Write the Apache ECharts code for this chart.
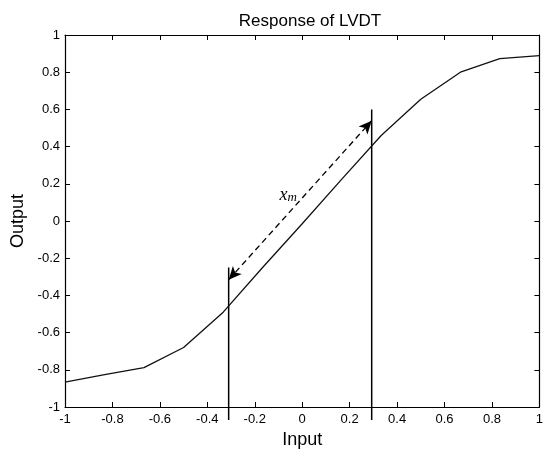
<!DOCTYPE html>
<html>
<head>
<meta charset="utf-8">
<script src="https://cdn.jsdelivr.net/npm/echarts@6/dist/echarts.min.js"></script>
<style>
html,body{margin:0;padding:0;background:#fff;}
#chart{width:546px;height:454px;}
</style>
</head>
<body>
<div id="chart"></div>
<script>
// Data
const inputX  = [-1, -0.833, -0.667, -0.5, -0.333, -0.167, 0, 0.167, 0.333, 0.5, 0.667, 0.833, 1];
const outputY = [-0.866, -0.826, -0.788, -0.68, -0.49, -0.25, -0.015, 0.225, 0.46, 0.655, 0.80, 0.873, 0.889];
const markerX = [-0.31, 0.293];
const markerTop = [-0.25, 0.60];
const markerBottom = -1.07;
const arrowStart = [-0.31, -0.316];
const arrowEnd = [0.293, 0.539];
const labelPos = [-0.059, 0.14];
const titleText = 'Response of LVDT';
const xName = 'Input';
const yName = 'Output';

const font = 'Liberation Sans, Arial, Helvetica, sans-serif';
const curve = inputX.map((x, i) => [x, outputY[i]]);
const markerSeries = markerX.map((x, i) => ({
  type: 'line',
  data: [[x, markerBottom], [x, markerTop[i]]],
  symbol: 'none',
  clip: false,
  silent: true,
  lineStyle: {color: '#000', width: 1.5},
  z: 3
}));

const chart = echarts.init(document.getElementById('chart'), null, {renderer: 'canvas'});
const axisCommon = {
  type: 'value', min: -1, max: 1, interval: 0.2,
  axisLine: {show: true, onZero: false, lineStyle: {color: '#000', width: 1.2}},
  axisTick: {show: true, inside: true, length: 5, lineStyle: {color: '#000', width: 1}},
  splitLine: {show: false}
};
chart.setOption({
  animation: false,
  backgroundColor: '#fff',
  title: {
    text: titleText, left: 305, top: 8, textAlign: 'center',
    textStyle: {fontFamily: font, fontSize: 17, fontWeight: 'normal', color: '#000'}
  },
  grid: {left: 65, right: 3, top: 35, bottom: 42, containLabel: false},
  xAxis: [
    Object.assign({}, axisCommon, {
      position: 'bottom', name: xName, nameLocation: 'middle', nameGap: 24,
      nameTextStyle: {fontFamily: font, fontSize: 18, color: '#000'},
      axisLabel: {fontFamily: font, fontSize: 13, color: '#000', margin: 6}
    }),
    Object.assign({}, axisCommon, {position: 'top', axisLabel: {show: false}})
  ],
  yAxis: [
    Object.assign({}, axisCommon, {
      position: 'left', name: yName, nameLocation: 'middle', nameGap: 36,
      nameTextStyle: {fontFamily: font, fontSize: 18, color: '#000'},
      axisLabel: {fontFamily: font, fontSize: 13, color: '#000', margin: 5}
    }),
    Object.assign({}, axisCommon, {position: 'right', axisLabel: {show: false}})
  ],
  series: [
    {
      type: 'line',
      data: curve,
      symbol: 'none',
      lineStyle: {color: '#111', width: 1.3},
      z: 4,
      markLine: {
        silent: true,
        symbol: ['arrow', 'arrow'],
        symbolSize: [9, 13],
        label: {show: false},
        lineStyle: {color: '#000', width: 1.3, type: [6, 4]},
        data: [[{coord: arrowStart}, {coord: arrowEnd}]]
      },
      markPoint: {
        silent: true,
        symbol: 'circle',
        symbolSize: 0,
        data: [{coord: labelPos}],
        label: {
          show: true,
          position: 'inside',
          formatter: '{a|x}{b|m}',
          rich: {
            a: {fontFamily: 'Liberation Serif, Times New Roman, serif', fontStyle: 'italic', fontSize: 18, color: '#000'},
            b: {fontFamily: 'Liberation Serif, Times New Roman, serif', fontStyle: 'italic', fontSize: 13, color: '#000', padding: [6, 0, 0, 0]}
          }
        }
      }
    }
  ].concat(markerSeries)
});
</script>
</body>
</html>
